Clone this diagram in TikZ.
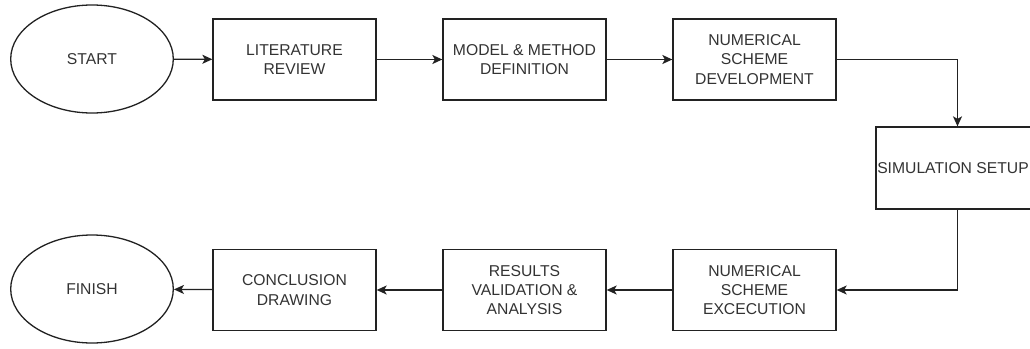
\documentclass[tikz,border=0pt]{standalone}
\usepackage{fontspec}
\setmainfont{Liberation Sans}
\usetikzlibrary{arrows.meta,shapes.geometric}

\definecolor{linecol}{HTML}{222222}
\definecolor{textcol}{HTML}{333333}

\tikzset{
  base/.style={draw=linecol, line width=1.3pt, text=textcol, align=center,
    inner sep=0pt, font=\fontsize{15.7}{19.3}\selectfont},
  procbox/.style={base, rectangle, minimum width=163pt, minimum height=81pt},
  terminal/.style={base, ellipse, minimum width=162.6pt, minimum height=108pt},
  flow/.style={draw=linecol, line width=1.3pt,
    -{Stealth[length=10pt, width=9pt, inset=2.5pt]}}
}

\begin{document}
\begin{tikzpicture}[x=1pt, y=-1pt]
  \useasboundingbox (0,0) rectangle (1030,348);
  \clip (0,0) rectangle (1030,348);

  % top row
  \node[terminal] (start)  at (92,59)      {START};
  \node[procbox]  (lit)    at (294.5,59.5) {LITERATURE\\REVIEW};
  \node[procbox]  (model)  at (524.5,59.5) {MODEL \& METHOD\\DEFINITION};
  \node[procbox]  (numdev) at (754.5,59.5) {NUMERICAL\\SCHEME\\DEVELOPMENT};

  % turning step on the right (its label runs close to the left border)
  \node[procbox, minimum height=82pt] (sim) at (957.5,168)
    {SIMULATION SETUP\hspace*{9pt}};

  % bottom row
  \node[procbox]  (numexe) at (754.5,290)  {NUMERICAL\\SCHEME\\EXCECUTION};
  \node[procbox]  (res)    at (524.5,290)  {RESULTS\\VALIDATION \&\\ANALYSIS};
  \node[procbox]  (concl)  at (294.5,290)  {CONCLUSION\\DRAWING};
  \node[terminal] (finish) at (92,289)     {FINISH};

  % connectors
  \draw[flow] (start) -- (lit);
  \draw[flow] (lit) -- (model);
  \draw[flow] (model) -- (numdev);
  \draw[flow] (numdev.east) -| (sim.north);
  \draw[flow] (sim.south) |- (numexe.east);
  \draw[flow] (numexe) -- (res);
  \draw[flow] (res) -- (concl);
  \draw[flow] (concl) -- (finish);
\end{tikzpicture}
\end{document}
